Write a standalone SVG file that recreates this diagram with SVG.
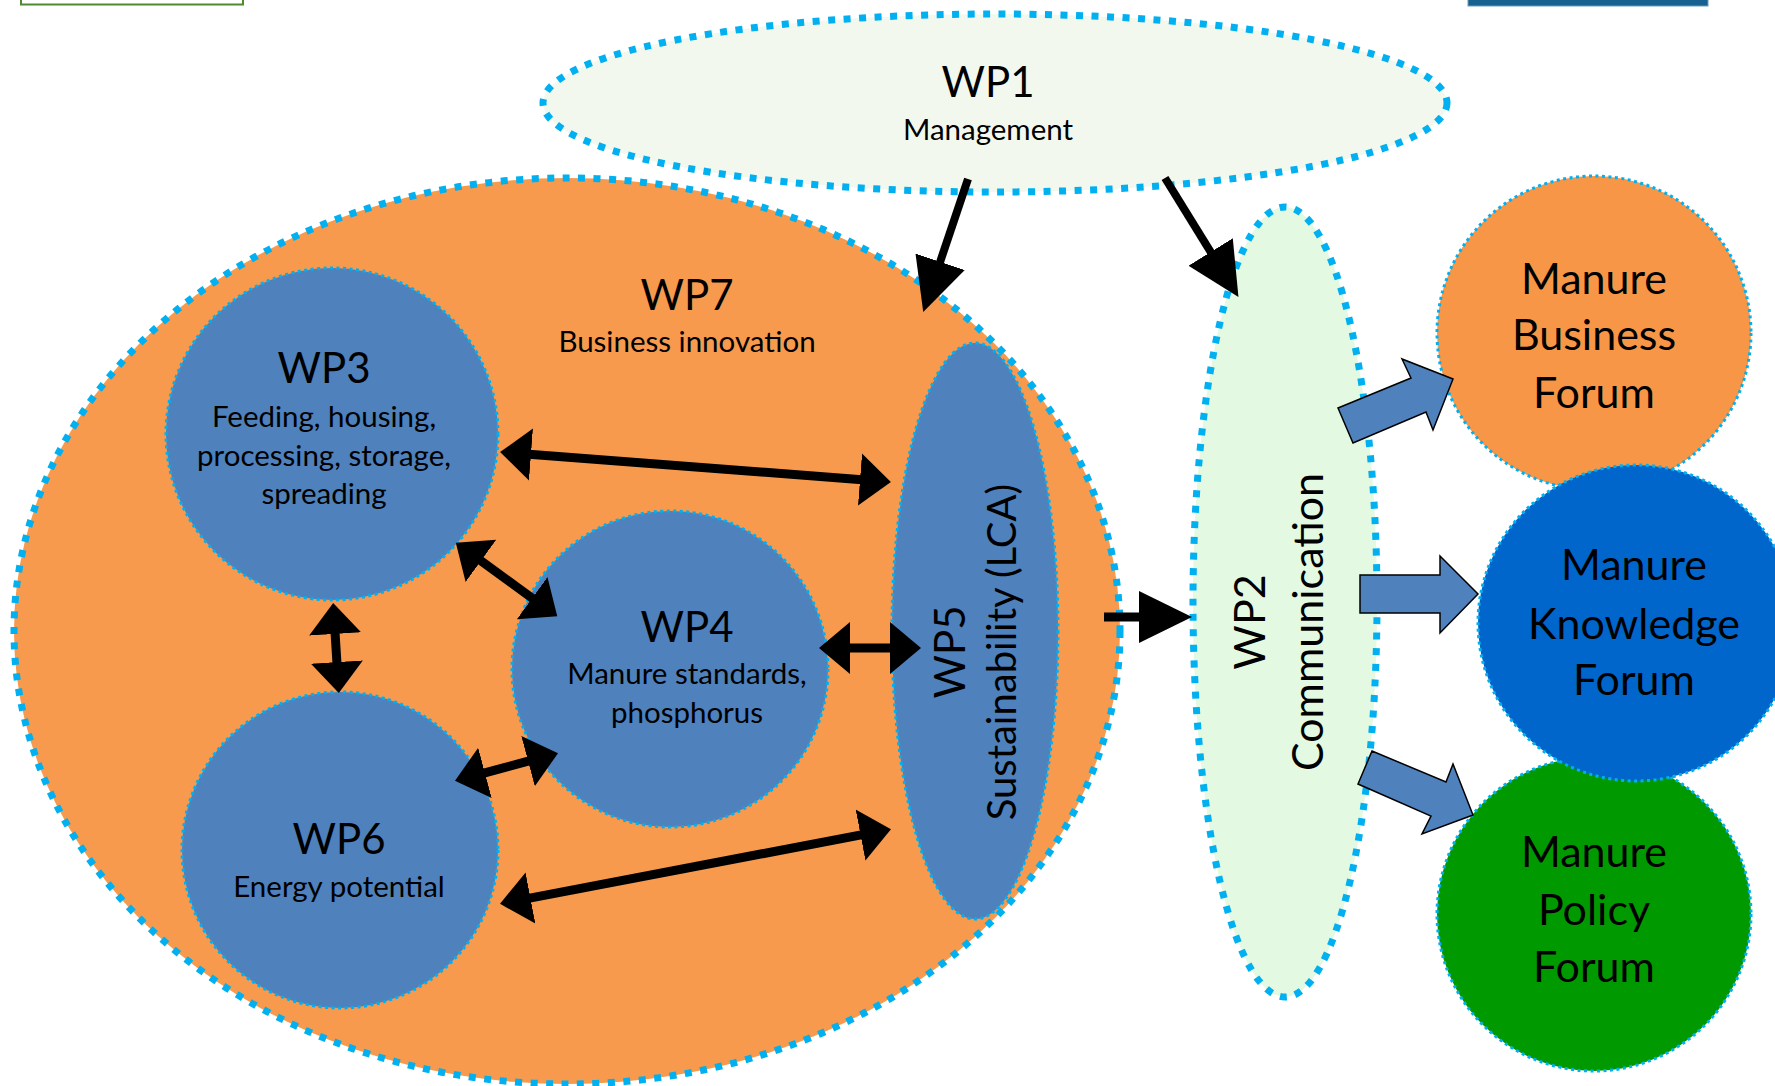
<svg xmlns="http://www.w3.org/2000/svg" width="1775" height="1086" viewBox="0 0 1775 1086">
<style>
  .t { font-family: Lato, "Open Sans", "Liberation Sans", sans-serif; fill: #000; text-anchor: middle; }
  .big { font-size: 42px; }
  .sub { font-size: 29.5px; }
  .forum { font-size: 43px; }
  .thick { stroke: #00B0F0; stroke-width: 7; stroke-dasharray: 7 8.5; }
  .thin { stroke: #00B0F0; stroke-width: 3; stroke-dasharray: 3 3.5; }
  .wp { fill: #4F81BD; }
  .shaft { stroke: #000; stroke-width: 9; fill: none; }
  .shaft1 { stroke: #000; stroke-width: 8; fill: none; }
  .block { fill: #4F81BD; stroke: #000; stroke-width: 1.5; stroke-linejoin: miter; }
</style>
<defs>
  <marker id="dh" markerUnits="userSpaceOnUse" markerWidth="34" markerHeight="56" viewBox="0 -28 34 56" refX="2" refY="0" orient="auto-start-reverse">
    <path d="M0,-26 L31,0 L0,26 Z" fill="#000"/>
  </marker>
  <marker id="sh" markerUnits="userSpaceOnUse" markerWidth="56" markerHeight="56" viewBox="0 -28 56 56" refX="2" refY="0" orient="auto">
    <path d="M0,-26 L53,0 L0,26 Z" fill="#000"/>
  </marker>
</defs>

<!-- fragments at top edge -->
<rect x="21" y="-10" width="222" height="14.5" fill="none" stroke="#4E8A2E" stroke-width="2"/>
<rect x="1468" y="-5" width="240" height="11" fill="#17608F" stroke="#6B9CC0" stroke-width="1"/>

<g id="wp7">
  <ellipse cx="567" cy="631" rx="553" ry="453" fill="#F79A4D" class="thick"/>
  <text class="t big" x="687" y="310">WP7</text>
  <text class="t sub" x="687" y="352">Business innovation</text>
</g>

<g id="wp5">
  <ellipse cx="975" cy="631" rx="83" ry="288" class="wp thin"/>
  <text class="t big" transform="translate(965,652) rotate(-90)">WP5</text>
  <text class="t" style="font-size:40px" transform="translate(1016,652) rotate(-90)">Sustainability (LCA)</text>
</g>

<g id="wp3">
  <circle cx="332" cy="434" r="166" class="wp thin"/>
  <text class="t big" x="324" y="383">WP3</text>
  <text class="t sub" x="324" y="427">Feeding, housing,</text>
  <text class="t sub" x="324" y="466">processing, storage,</text>
  <text class="t sub" x="324" y="504">spreading</text>
</g>

<g id="wp4">
  <circle cx="670" cy="669" r="158" class="wp thin"/>
  <text class="t big" x="687" y="642">WP4</text>
  <text class="t sub" x="687" y="684">Manure standards,</text>
  <text class="t sub" x="687" y="723">phosphorus</text>
</g>

<g id="wp6">
  <circle cx="340" cy="850" r="158" class="wp thin"/>
  <text class="t big" x="339" y="854">WP6</text>
  <text class="t sub" x="339" y="897">Energy potential</text>
</g>

<g id="wp1">
  <ellipse cx="995" cy="103" rx="452" ry="89" fill="#F3F8EF" class="thick"/>
  <text class="t big" x="988" y="97">WP1</text>
  <text class="t sub" x="988" y="140">Management</text>
</g>

<g id="wp2">
  <ellipse cx="1285" cy="602" rx="92" ry="395" fill="#E3F9E1" class="thick"/>
  <text class="t" style="font-size:43px" transform="translate(1265,622) rotate(-90)">WP2</text>
  <text class="t" style="font-size:43px" transform="translate(1323,622) rotate(-90)">Communication</text>
</g>

<g id="business-forum">
  <circle cx="1594" cy="333" r="157" fill="#F79646" class="thin"/>
  <text class="t forum" x="1594" y="294">Manure</text>
  <text class="t forum" x="1594" y="350">Business</text>
  <text class="t forum" x="1594" y="408">Forum</text>
</g>

<g id="policy-forum">
  <circle cx="1594" cy="914" r="157" fill="#009900" class="thin"/>
  <text class="t forum" x="1594" y="867">Manure</text>
  <text class="t forum" x="1594" y="925">Policy</text>
  <text class="t forum" x="1594" y="982">Forum</text>
</g>

<g id="knowledge-forum">
  <circle cx="1636" cy="623" r="158" fill="#0066CC" class="thin"/>
  <text class="t forum" x="1634" y="580">Manure</text>
  <text class="t forum" x="1634" y="639">Knowledge</text>
  <text class="t forum" x="1634" y="695">Forum</text>
</g>

<g id="connectors">
  <line class="shaft" x1="529" y1="454.3" x2="862" y2="479.7" marker-start="url(#dh)" marker-end="url(#dh)"/>
  <line class="shaft" x1="479.3" y1="559.7" x2="533.8" y2="599.3" marker-start="url(#dh)" marker-end="url(#dh)"/>
  <line class="shaft" x1="335" y1="632" x2="337" y2="664" marker-start="url(#dh)" marker-end="url(#dh)"/>
  <line class="shaft" x1="848" y1="648" x2="892" y2="648" marker-start="url(#dh)" marker-end="url(#dh)"/>
  <line class="shaft" x1="483" y1="773.3" x2="530" y2="760.7" marker-start="url(#dh)" marker-end="url(#dh)"/>
  <line class="shaft" x1="528.5" y1="898.4" x2="862.5" y2="834.6" marker-start="url(#dh)" marker-end="url(#dh)"/>
  <line class="shaft1" x1="968" y1="179" x2="939.5" y2="263.7" marker-end="url(#sh)"/>
  <line class="shaft1" x1="1165" y1="178" x2="1211.7" y2="253.7" marker-end="url(#sh)"/>
  <line class="shaft" x1="1104" y1="617" x2="1141" y2="617" marker-end="url(#sh)"/>
  <polygon class="block" points="1338,408 1411,378 1402,359 1453,379 1433,430 1426,412 1353,443"/>
  <polygon class="block" points="1360,575 1440,575 1440,556 1478,594 1440,633 1440,613 1360,613"/>
  <polygon class="block" points="1372,751 1446,782 1453,764 1473,815 1422,834 1431,816 1358,784"/>
</g>
</svg>
